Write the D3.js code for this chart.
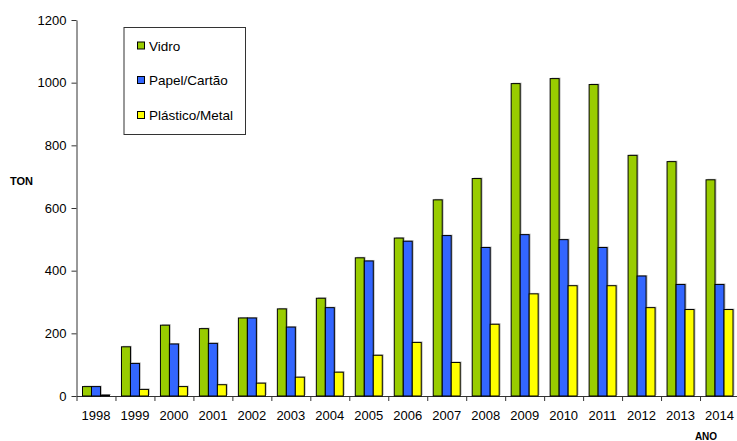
<!DOCTYPE html>
<html>
<head>
    <script src="https://d3js.org/d3.v7.min.js"></script>
    <style>
        body { margin: 0; background: #fff; }
        text { font-family: "Liberation Sans", Arial, sans-serif; fill: #000; }
        .axis text { font-size: 13px; font-family: "Liberation Sans", Arial, sans-serif; }
        .axis path, .axis line { stroke: #333; }
    </style>
</head>
<body>
    <svg width="737" height="441"></svg>

    <script>
        const width = 737, height = 441;
        const margin = { top: 20, right: -2, bottom: 45, left: 76.5 };
        const svg = d3.select("svg");

        // data
        const years = ["1998", "1999", "2000", "2001", "2002", "2003", "2004", "2005", "2006",
                       "2007", "2008", "2009", "2010", "2011", "2012", "2013", "2014"];
        const vidro    = [30, 157, 226, 215, 249, 278, 312, 441, 504, 626, 694, 997, 1013, 994, 768, 748, 690];
        const papel    = [30, 104, 166, 168, 249, 220, 282, 431, 494, 512, 474, 515, 499, 474, 383, 356, 356];
        const plastico = [3, 21, 30, 36, 41, 60, 76, 130, 171, 107, 229, 326, 352, 352, 282, 276, 276];
        const seriesNames = ["Vidro", "Papel/Cartão", "Plástico/Metal"];
        const colors = ["#99CC00", "#3366FF", "#FFFF00"];
        const yTicks = [0, 200, 400, 600, 800, 1000, 1200];

        const series = [vidro, papel, plastico];

        const x0 = d3.scaleBand().domain(years)
            .range([margin.left, width - margin.right]).paddingInner(0).paddingOuter(0);
        const x1 = d3.scaleBand().domain(d3.range(3))
            .range([0, x0.bandwidth()]).paddingInner(0).paddingOuter(0.667);
        const y = d3.scaleLinear().domain([0, 1200]).range([height - margin.bottom, margin.top]);
        const xEdges = d3.scaleLinear().domain([0, years.length])
            .range([margin.left, width - margin.right]);

        // y axis
        svg.append("g")
            .attr("class", "axis")
            .attr("transform", `translate(${margin.left},0)`)
            .call(d3.axisLeft(y).tickValues(yTicks).tickFormat(d3.format("d"))
                .tickSize(5).tickPadding(5).tickSizeOuter(0))
            .selectAll("text").attr("fill", "#000");

        // x axis: boundary ticks
        svg.append("g")
            .attr("class", "axis")
            .attr("transform", `translate(0,${y(0)})`)
            .call(d3.axisBottom(xEdges).tickValues(d3.range(years.length + 1))
                .tickFormat("").tickSize(5).tickSizeOuter(0));

        // x axis: year labels
        const xl = svg.append("g")
            .attr("class", "axis")
            .attr("transform", `translate(0,${y(0)})`)
            .call(d3.axisBottom(x0).tickSize(0).tickPadding(15));
        xl.select(".domain").remove();

        // bars
        const rows = years.map((yr, i) => series.map((s, k) => ({ year: yr, k: k, v: s[i] })));
        const groups = svg.append("g").selectAll("g")
            .data(rows)
            .enter().append("g")
            .attr("transform", d => `translate(${x0(d[0].year)},0)`);

        // faint shadow like the spreadsheet export
        groups.selectAll("rect.shadow")
            .data(d => d)
            .enter().append("rect")
            .attr("class", "shadow")
            .attr("x", d => x1(d.k) + 1.5)
            .attr("y", d => y(d.v) - 1)
            .attr("width", x1.bandwidth())
            .attr("height", d => y(0) - y(d.v))
            .attr("fill", "#999")
            .attr("opacity", 0.6);

        groups.selectAll("rect.bar")
            .data(d => d)
            .enter().append("rect")
            .attr("class", "bar")
            .attr("x", d => x1(d.k))
            .attr("y", d => y(d.v))
            .attr("width", x1.bandwidth())
            .attr("height", d => y(0) - y(d.v))
            .attr("fill", d => colors[d.k])
            .attr("stroke", "#000")
            .attr("stroke-width", 1);

        // axis titles
        svg.append("text")
            .attr("x", 10).attr("y", 185)
            .attr("font-size", "11px").attr("font-weight", "bold")
            .text("TON");
        svg.append("text")
            .attr("x", 706).attr("y", 440)
            .attr("text-anchor", "middle")
            .attr("font-size", "10px").attr("font-weight", "bold")
            .text("ANO");

        // legend
        const legend = svg.append("g");
        legend.append("rect")
            .attr("x", 124).attr("y", 27.5)
            .attr("width", 121.5).attr("height", 107)
            .attr("fill", "#fff").attr("stroke", "#333");
        const rowY = [45.5, 80, 115];
        seriesNames.forEach((name, k) => {
            legend.append("rect")
                .attr("x", 137.5).attr("y", rowY[k] - 3.5)
                .attr("width", 7).attr("height", 7)
                .attr("fill", colors[k]).attr("stroke", "#000");
            legend.append("text")
                .attr("x", 149).attr("y", rowY[k] + 5)
                .attr("font-size", "13.5px")
                .text(name);
        });
    </script>
</body>
</html>
